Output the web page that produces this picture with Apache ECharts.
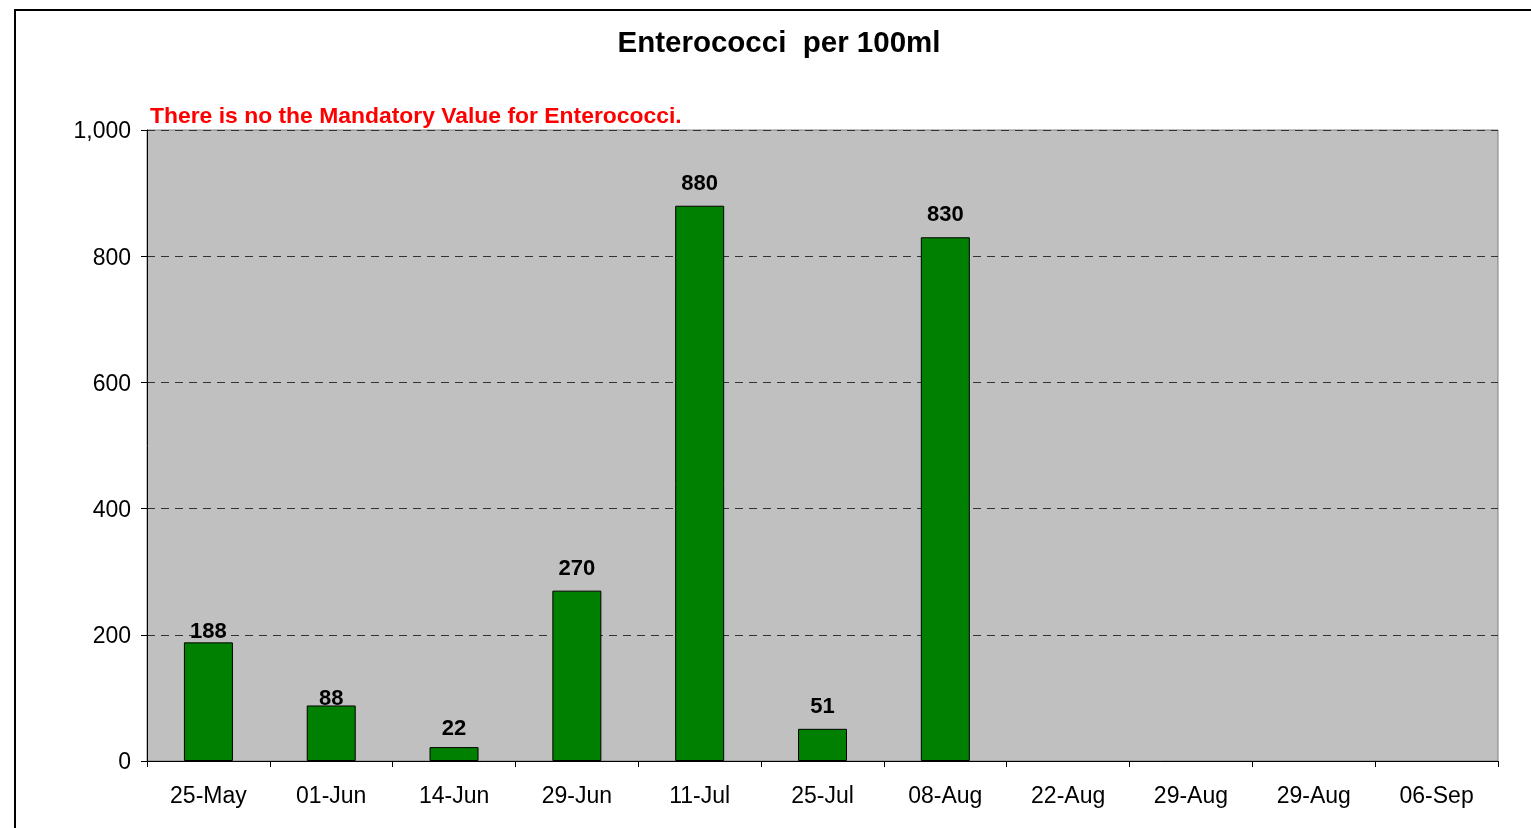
<!DOCTYPE html>
<html>
<head>
<meta charset="utf-8">
<script src="https://cdn.jsdelivr.net/npm/echarts@6/dist/echarts.min.js"></script>
<style>
  html, body { margin: 0; padding: 0; background: #fff; }
  #chart { width: 1531px; height: 828px; }
</style>
</head>
<body>
<div id="chart"></div>
<script>
const categories = ['25-May', '01-Jun', '14-Jun', '29-Jun', '11-Jul', '25-Jul', '08-Aug', '22-Aug', '29-Aug', '29-Aug', '06-Sep'];
const values = [188, 88, 22, 270, 880, 51, 830, null, null, null, null];
const titleText = 'Enterococci  per 100ml';
const noteText = 'There is no the Mandatory Value for Enterococci.';

// some labels sit lower on the bar in the original
const labelDistance = { 0: -1, 1: -4, 2: 7 };

const font = '"Liberation Sans", Arial, sans-serif';
const chart = echarts.init(document.getElementById('chart'));

chart.setOption({
  animation: false,
  backgroundColor: '#fff',
  grid: {
    left: 147,
    right: 33,
    top: 130,
    bottom: 67,
    show: true,
    backgroundColor: '#c0c0c0',
    borderColor: '#808080',
    borderWidth: 1,
  },
  graphic: [
    {
      type: 'rect',
      shape: { x: 15, y: 10, width: 1600, height: 900 },
      style: { fill: 'none', stroke: '#000', lineWidth: 2 },
      silent: true,
    },
    {
      type: 'text',
      x: 779,
      y: 44,
      style: {
        text: titleText,
        fontFamily: font,
        fontWeight: 'bold',
        fontSize: 29.5,
        fill: '#000',
        align: 'center',
        verticalAlign: 'middle',
      },
    },
    {
      type: 'text',
      x: 150,
      y: 117,
      style: {
        text: noteText,
        fontFamily: font,
        fontWeight: 'bold',
        fontSize: 22.9,
        fill: '#ff0000',
        align: 'left',
        verticalAlign: 'middle',
      },
    },
  ],
  xAxis: {
    type: 'category',
    data: categories,
    boundaryGap: true,
    axisLine: { lineStyle: { color: '#000', width: 1 } },
    axisTick: { show: true, length: 6, lineStyle: { color: '#000' } },
    axisLabel: { color: '#000', fontSize: 23, fontFamily: font, margin: 24, interval: 0 },
  },
  yAxis: {
    type: 'value',
    min: 0,
    max: 1000,
    interval: 200,
    axisLine: { show: true, lineStyle: { color: '#000', width: 1 } },
    axisTick: { show: true, length: 6, lineStyle: { color: '#000' } },
    axisLabel: {
      color: '#000',
      fontSize: 23,
      fontFamily: font,
      margin: 16,
      formatter: (v) => '{v|' + v.toLocaleString('en-US') + '}',
      rich: {
        v: { fontSize: 23, fontFamily: font, color: '#000', padding: [4, 0, 0, 0] },
      },
    },
    splitLine: {
      show: true,
      lineStyle: { color: '#333', type: [8, 6], width: 1 },
    },
  },
  series: [
    {
      type: 'bar',
      barWidth: 49,
      data: values.map((v, i) => ({
        value: v,
        label: { distance: labelDistance[i] !== undefined ? labelDistance[i] : 11 },
      })),
      itemStyle: { color: '#008000', borderColor: '#000', borderWidth: 1 },
      label: {
        show: true,
        position: 'top',
        color: '#000',
        fontWeight: 'bold',
        fontSize: 22,
        fontFamily: font,
      },
      z: 3,
    },
  ],
});
</script>
</body>
</html>
